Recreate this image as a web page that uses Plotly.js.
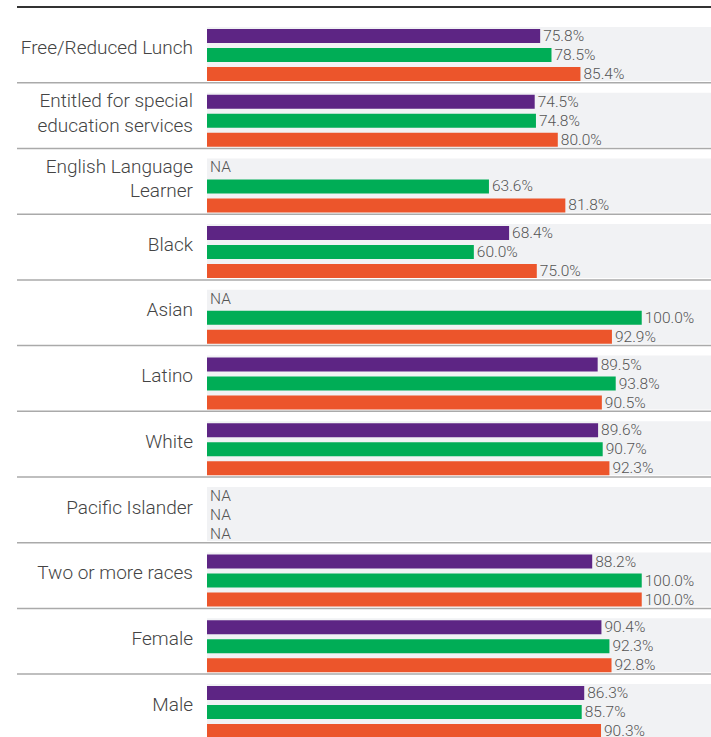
<!DOCTYPE html>
<html>
<head>
<meta charset="utf-8">
<script src="https://cdn.plot.ly/plotly-3.0.1.min.js"></script>
<style>html,body{margin:0;padding:0;background:#fff;}#chart{width:711px;height:737px;}</style>
</head>
<body>
<div id="chart"></div>
<script>
// ---- data ----
const categories = [
  "Free/Reduced Lunch",
  "Entitled for special<br>education services",
  "English Language<br>Learner",
  "Black",
  "Asian",
  "Latino",
  "White",
  "Pacific Islander",
  "Two or more races",
  "Female",
  "Male"
];
const seriesNames = ["Series 1", "Series 2", "Series 3"];
const series1 = [75.8, 74.5, null, 68.4, null, 89.5, 89.6, null, 88.2, 90.4, 86.3];
const series2 = [78.5, 74.8, 63.6, 60.0, 100.0, 93.8, 90.7, null, 100.0, 92.3, 85.7];
const series3 = [85.4, 80.0, 81.8, 75.0, 92.9, 90.5, 92.3, null, 100.0, 92.8, 90.3];
const naLabel = "NA";

// ---- style ----
const colors = ["#5d2584", "#00ad56", "#ec552b"];
const BAR_START = -3.57;     // bars are drawn from slightly left of zero
const FONT = "Roboto, 'Liberation Sans', Arial, sans-serif";

function makeTrace(vals, i) {
  return {
    type: "bar",
    orientation: "h",
    name: seriesNames[i],
    y: categories.map((c, k) => k),
    x: vals.map(v => v === null ? 0 : v - BAR_START),
    base: BAR_START,
    text: vals.map(v => v === null ? naLabel : v.toFixed(1) + "%"),
    textposition: "outside",
    constraintext: "none",
    cliponaxis: false,
    textfont: {family: FONT, size: 15.5, color: "#555555", weight: 300},
    marker: {color: colors[i]},
    hoverinfo: "skip"
  };
}

const data = [series1, series2, series3].map(makeTrace);

const shapes = [];
const L = (17 - 207) / 504;
categories.forEach((c, i) => {
  shapes.push({type: "rect", layer: "below", xref: "paper", yref: "y",
    x0: 0, x1: 1, y0: i - 0.4262, y1: i + 0.3957,
    fillcolor: "#f1f2f4", line: {width: 0}});
  shapes.push({type: "line", layer: "below", xref: "paper", yref: "y",
    x0: L, x1: 1, y0: i + 0.423, y1: i + 0.423,
    line: {color: "#aaaaaa", width: 1.5}});
});
shapes.push({type: "line", xref: "paper", yref: "paper",
  x0: L, x1: 1, y0: 1, y1: 1, line: {color: "#333333", width: 2}});

const layout = {
  width: 711, height: 737,
  margin: {l: 207, r: 0, t: 7, b: 0, pad: 0},
  paper_bgcolor: "#ffffff", plot_bgcolor: "rgba(0,0,0,0)",
  showlegend: false,
  barmode: "group",
  bargap: 0.1324,
  bargroupgap: 0.263,
  font: {family: FONT, color: "#444444"},
  xaxis: {range: [BAR_START, 116.5], showgrid: false, zeroline: false,
    showticklabels: false, showline: false, ticks: "", fixedrange: true},
  yaxis: {range: [10.3805, -0.7306], tickmode: "array",
    tickvals: categories.map((c, k) => k), ticktext: categories,
    showgrid: false, zeroline: false, showline: false, ticks: "",
    ticklabelstandoff: 13, ticklabelshift: 8,
    tickfont: {family: FONT, size: 19, color: "#444444", weight: 300}},
  shapes: shapes
};

Plotly.newPlot("chart", data, layout, {displayModeBar: false, staticPlot: true});
</script>
</body>
</html>
